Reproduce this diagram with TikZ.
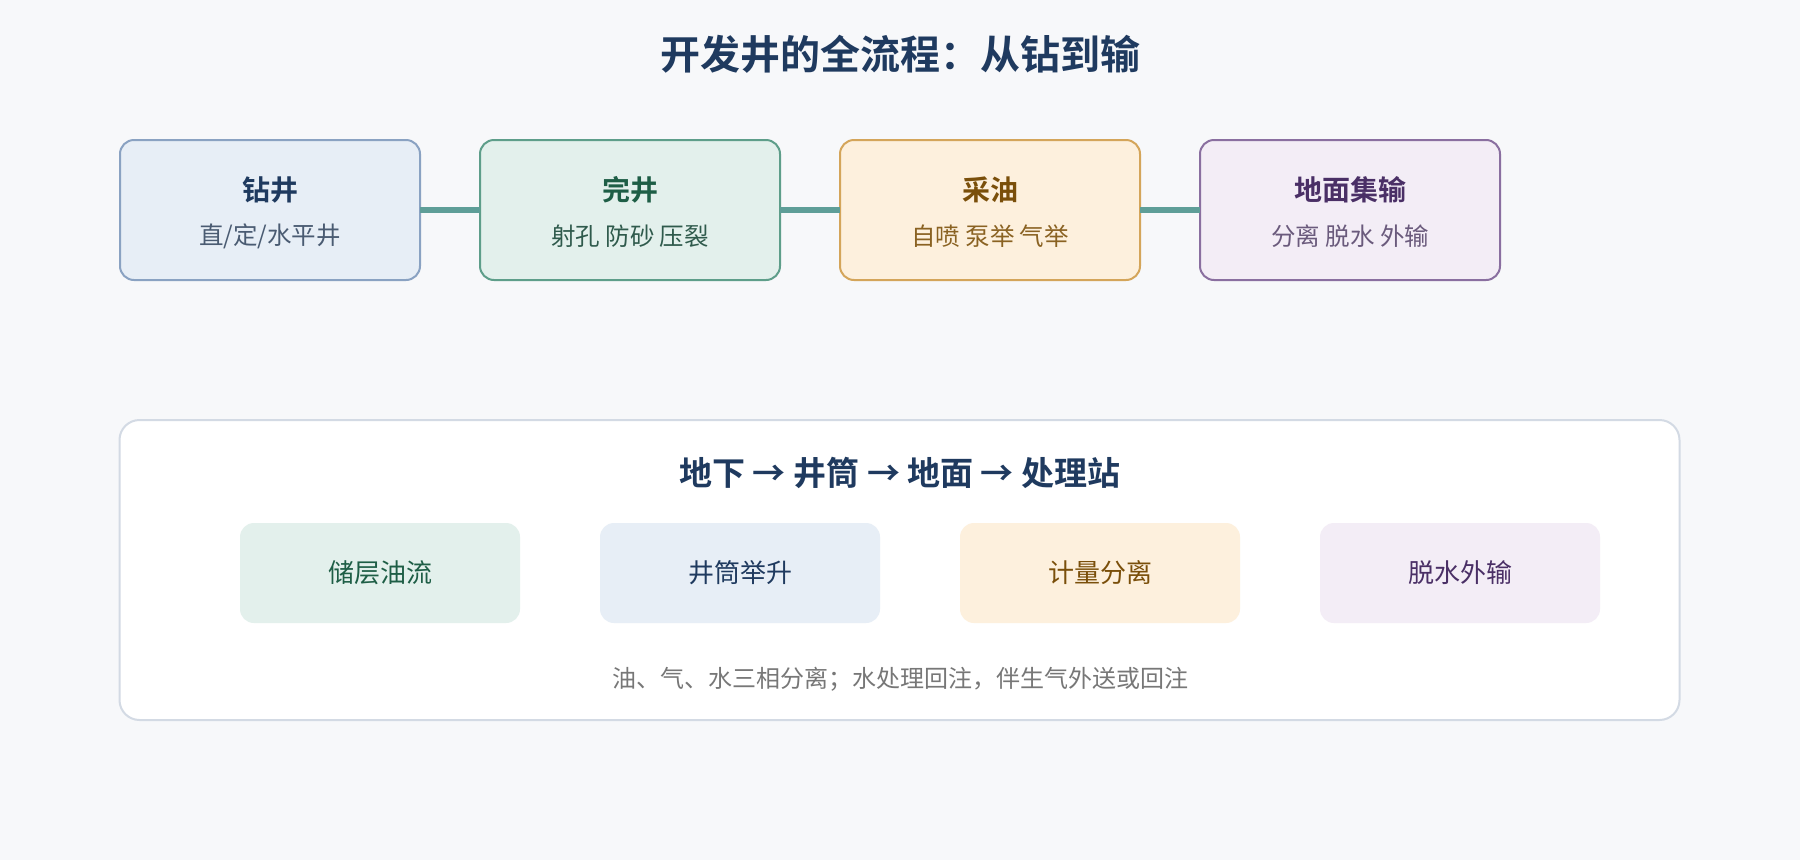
\documentclass[tikz,border=0pt]{standalone}
\usepackage{fontspec}
\setmainfont{Noto Sans CJK SC}[BoldFont={Noto Sans CJK SC Bold}]
\usepackage{xcolor}
\usetikzlibrary{positioning}

\definecolor{bgpage}{HTML}{F7F8FA}
\definecolor{navy}{HTML}{1F3A5F}
\definecolor{linkteal}{HTML}{5E9E98}
\definecolor{blufill}{HTML}{E7EEF6}
\definecolor{bluline}{HTML}{8AA2C2}
\definecolor{blusub}{HTML}{4A5B72}
\definecolor{grnfill}{HTML}{E3F0EC}
\definecolor{grnline}{HTML}{5E9E8A}
\definecolor{grntext}{HTML}{1E5E46}
\definecolor{grnsub}{HTML}{2F5A4C}
\definecolor{orgfill}{HTML}{FDF0DD}
\definecolor{orgline}{HTML}{D4A55A}
\definecolor{orgtext}{HTML}{7A4F0A}
\definecolor{orgsub}{HTML}{8A6222}
\definecolor{purfill}{HTML}{F3EDF6}
\definecolor{purline}{HTML}{8A6FA0}
\definecolor{purtext}{HTML}{4A2F66}
\definecolor{pursub}{HTML}{6A5A7C}
\definecolor{panline}{HTML}{D3DAE4}
\definecolor{foot}{HTML}{777777}

\begin{document}
\begin{tikzpicture}[x=1pt, y=-1pt]

% Custom styles
    \tikzstyle{stage} = [rounded corners=14pt, line width=2pt, outer sep=0pt, minimum width=300pt, minimum height=140pt]
    \tikzstyle{head} = [font=\fontsize{28}{33}\selectfont\bfseries]
    \tikzstyle{sub} = [font=\fontsize{24.5}{29}\selectfont]
    \tikzstyle{flowbox} = [rounded corners=14pt, outer sep=0pt, minimum width=280pt, minimum height=100pt, font=\fontsize{26}{31}\selectfont]
    \tikzstyle{link} = [draw=linkteal, line width=6pt]

    % Page
    \fill[bgpage] (0,0) rectangle (1800,860);
    \useasboundingbox (0,0) rectangle (1800,860);

    % Title
    \node[text=navy, font=\fontsize{40}{48}\selectfont\bfseries] (title) at (900,54) {开发井的全流程：从钻到输};

    % Define stages
    \node[stage, draw=bluline, fill=blufill] (drill) at (270,210) {};
    \node[stage, draw=grnline, fill=grnfill, right=60pt of drill] (complete) {};
    \node[stage, draw=orgline, fill=orgfill, right=60pt of complete] (produce) {};
    \node[stage, draw=purline, fill=purfill, right=60pt of produce] (gather) {};

    \node[head, text=navy] (drillhead) at ([yshift=20pt]drill.center) {钻井};
    \node[sub, text=blusub] (drillsub) at ([yshift=-26pt]drill.center) {直/定/水平井};
    \node[head, text=grntext] (completehead) at ([yshift=20pt]complete.center) {完井};
    \node[sub, text=grnsub] (completesub) at ([yshift=-26pt]complete.center) {射孔 防砂 压裂};
    \node[head, text=orgtext] (producehead) at ([yshift=20pt]produce.center) {采油};
    \node[sub, text=orgsub] (producesub) at ([yshift=-26pt]produce.center) {自喷 泵举 气举};
    \node[head, text=purtext] (gatherhead) at ([yshift=20pt]gather.center) {地面集输};
    \node[sub, text=pursub] (gathersub) at ([yshift=-26pt]gather.center) {分离 脱水 外输};

    % Connect stages
    \draw[link] (drill) -- (complete);
    \draw[link] (complete) -- (produce);
    \draw[link] (produce) -- (gather);

    % Flow panel
    \node[draw=panline, fill=white, line width=2pt, rounded corners=20pt, minimum width=1560pt, minimum height=300pt] (panel) at (899.5,570) {};
    \node[text=navy, font=\fontsize{33}{39}\selectfont\bfseries] (paneltitle) at (900,473) {地下 → 井筒 → 地面 → 处理站};

    \node[flowbox, fill=grnfill, text=grntext] (reservoir) at (380,573) {储层油流};
    \node[flowbox, fill=blufill, text=navy, right=80pt of reservoir] (lift) {井筒举升};
    \node[flowbox, fill=orgfill, text=orgtext, right=80pt of lift] (meter) {计量分离};
    \node[flowbox, fill=purfill, text=purtext, right=80pt of meter] (export) {脱水外输};

    \node[text=foot, font=\fontsize{24}{29}\selectfont] (note) at (900,679) {油、气、水三相分离；水处理回注，伴生气外送或回注};

\end{tikzpicture}
\end{document}
